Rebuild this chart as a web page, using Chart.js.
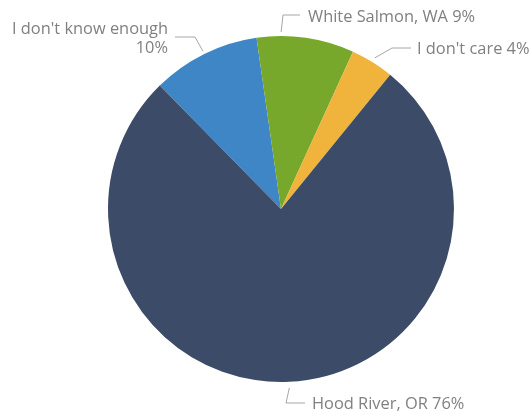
<!DOCTYPE html>
<html>
<head>
<meta charset="utf-8">
<script src="https://cdn.jsdelivr.net/npm/chart.js@4.4.0/dist/chart.umd.min.js"></script>
<style>
  body { margin: 0; background: #fff; }
  canvas { display: block; }
</style>
</head>
<body>
<canvas id="pie" width="529" height="415"></canvas>
<script>
// survey answers, in the order they go round the pie
const categories = ["I don't know enough", 'White Salmon, WA', "I don't care", 'Hood River, OR'];
const shares = [10, 9, 4, 76];
const colors = ['#3e86c5', '#78a82b', '#f0b43c', '#3b4b68'];

// where each label sits: point on the slice (0..1 across it), elbow and text anchor
const labelLayout = [
  { frac: 0.5, gap: 3, elbow: [195, 37], end: [175, 37], text: [168, 29], align: 'right', lines: ["I don't know enough", '10%'] },
  { frac: 0.25, gap: 4, elbow: [283, 15], end: [300, 15], text: [308, 17], align: 'left' },
  { frac: 0.5, gap: 5, elbow: [392, 48], end: [411, 48], text: [417, 49], align: 'left' },
  { frac: 0.5, gap: 6, elbow: [286, 403], end: [305, 403], text: [312, 404], align: 'left' }
];

const pieLabels = {
  id: 'pieLabels',
  afterDatasetsDraw(chart) {
    const ctx = chart.ctx;
    const arcs = chart.getDatasetMeta(0).data;
    ctx.save();
    ctx.font = '16.4px "Open Sans"';
    ctx.textBaseline = 'middle';
    arcs.forEach((arc, i) => {
      const lay = labelLayout[i];
      const p = arc.getProps(['x', 'y', 'startAngle', 'endAngle', 'outerRadius'], true);
      const a = p.startAngle + (p.endAngle - p.startAngle) * lay.frac;
      const r = p.outerRadius + lay.gap;

      // leader line: slice edge -> elbow -> towards the text
      ctx.strokeStyle = '#a6a6a6';
      ctx.lineWidth = 1;
      ctx.beginPath();
      ctx.moveTo(p.x + Math.cos(a) * r, p.y + Math.sin(a) * r);
      ctx.lineTo(lay.elbow[0], lay.elbow[1]);
      ctx.lineTo(lay.end[0], lay.end[1]);
      ctx.stroke();

      ctx.fillStyle = '#808080';
      ctx.textAlign = lay.align;
      const lines = lay.lines || [categories[i] + ' ' + shares[i] + '%'];
      lines.forEach((t, k) => ctx.fillText(t, lay.text[0], lay.text[1] + k * 19));
    });
    ctx.restore();
  }
};

new Chart(document.getElementById('pie'), {
  type: 'pie',
  data: {
    labels: categories,
    datasets: [{
      data: shares,
      backgroundColor: colors,
      borderWidth: 0
    }]
  },
  options: {
    responsive: false,
    animation: false,
    rotation: -44.5,
    layout: { padding: { left: 108, right: 75, top: 36, bottom: 33 } },
    plugins: {
      legend: { display: false },
      tooltip: { enabled: false }
    }
  },
  plugins: [pieLabels]
});
</script>
</body>
</html>
